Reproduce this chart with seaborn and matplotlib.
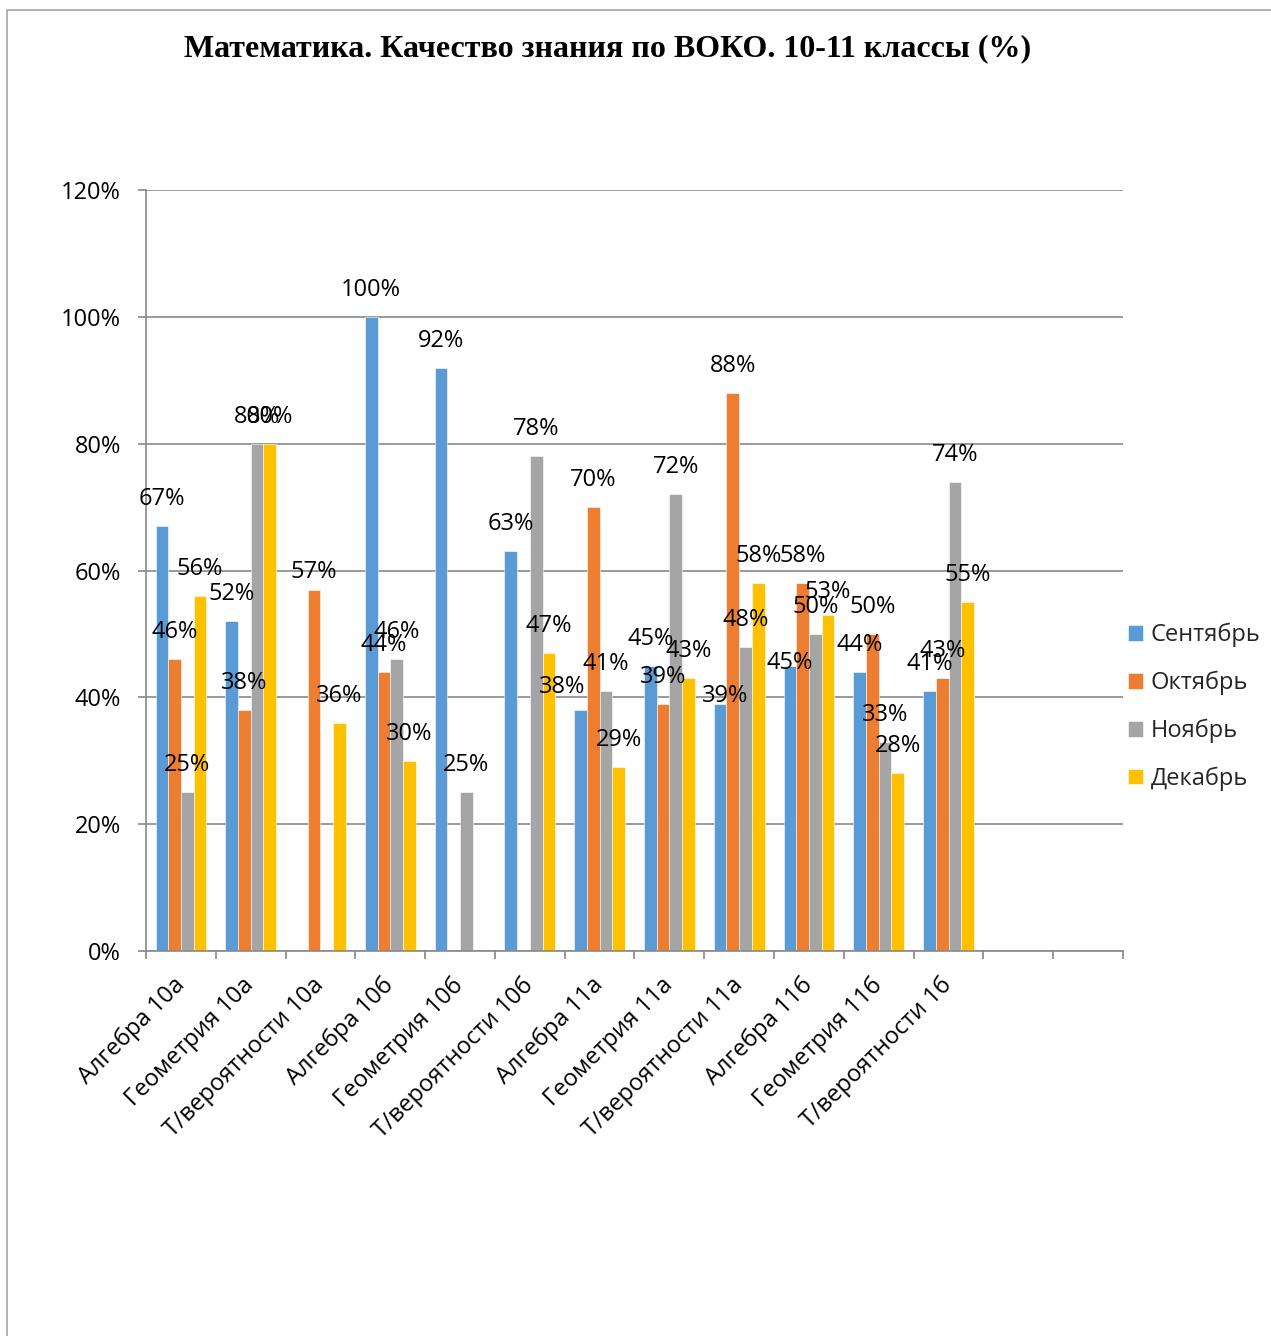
import matplotlib
matplotlib.use("Agg")
import numpy as np
import pandas as pd
import seaborn as sns
import matplotlib.pyplot as plt
from matplotlib.ticker import PercentFormatter, MultipleLocator, FixedLocator
from matplotlib.patches import Rectangle

# ---------------- data ----------------
categories = ["Алгебра 10а", "Геометрия 10а", "Т/вероятности 10а", "Алгебра 10б",
              "Геометрия 10б", "Т/вероятности 10б", "Алгебра 11а", "Геометрия 11а",
              "Т/вероятности 11а", "Алгебра 11б", "Геометрия 11б", "Т/вероятности 1б"]
months = ["Сентябрь", "Октябрь", "Ноябрь", "Декабрь"]
nan = np.nan
sentyabr = [67, 52, nan, 100, 92, 63, 38, 45, 39, 45, 44, 41]
oktyabr = [46, 38, 57, 44, nan, nan, 70, 39, 88, 58, 50, 43]
noyabr = [25, 80, nan, 46, 25, 78, 41, 72, 48, 50, 33, 74]
dekabr = [56, 80, 36, 30, nan, 47, 29, 43, 58, 53, 28, 55]
title = "Математика. Качество знания по ВОКО. 10-11 классы (%)"

colors = ["#5B9BD5", "#ED7D31", "#A5A5A5", "#FFC000"]

# manual label nudges (pixels) as in the original chart: (category index, month index) -> (dx, dy)
label_nudge = {(6, 0): (-18, -4), (8, 0): (5, -19), (9, 0): (0, -24),
               (2, 1): (0, -9), (9, 3): (0, -4)}

rows = []
for m, vals in zip(months, [sentyabr, oktyabr, noyabr, dekabr]):
    for c, v in zip(categories, vals):
        rows.append((c, m, v))
df = pd.DataFrame(rows, columns=["cat", "month", "value"])

# ---------------- figure ----------------
W, H = 1271, 1336
DPI = 100
FS = 17
sns.set_theme(style="white")
plt.rcParams["font.family"] = ["Open Sans", "DejaVu Sans"]

fig = plt.figure(figsize=(W / DPI, H / DPI), dpi=DPI)
fig.patch.set_facecolor("white")
ax = fig.add_axes([146 / W, 1 - 951 / H, (1123 - 146) / W, (951 - 190) / H])

sns.barplot(data=df, x="cat", y="value", hue="month", order=categories,
            hue_order=months, palette=colors, saturation=1, width=0.727,
            errorbar=None, ax=ax, edgecolor="#FFFFFF", linewidth=0.4)

ax.set_xlim(-0.5, 13.5)
ax.set_ylim(0, 120)
ax.set_xlabel("")
ax.set_ylabel("")

grid_c = "#898989"
ax.yaxis.set_major_locator(MultipleLocator(20))
ax.yaxis.set_major_formatter(PercentFormatter(100, decimals=0))
ax.grid(axis="y", color=grid_c, lw=1.2)
ax.grid(axis="x", visible=False)
ax.set_axisbelow(True)
for s in ["top", "right"]:
    ax.spines[s].set_visible(False)
for s in ["left", "bottom"]:
    ax.spines[s].set_color(grid_c)
    ax.spines[s].set_linewidth(1.2)

ax.set_xticks(range(len(categories)))
ax.set_xticklabels(categories)
ax.xaxis.set_minor_locator(FixedLocator(np.arange(-0.5, 14.0, 1.0)))
ax.tick_params(axis="x", which="major", bottom=True, length=0, pad=22,
               labelsize=FS, labelcolor="black")
ax.tick_params(axis="x", which="minor", bottom=True, length=6, width=1.2,
               color=grid_c, direction="out")
ax.tick_params(axis="y", which="major", left=True, length=6, width=1.2,
               color=grid_c, direction="out", pad=12, labelsize=FS, labelcolor="black")
plt.setp(ax.get_xticklabels(), rotation=45, ha="right", va="center",
         rotation_mode="anchor")

# data labels
for mi, cont in enumerate(ax.containers):
    for patch in cont:
        h = patch.get_height()
        if h is None or np.isnan(h):
            continue
        xc = patch.get_x() + patch.get_width() / 2
        ci = int(round(xc))
        dx, dy = label_nudge.get((ci, mi), (0, 0))
        ax.annotate(f"{h:.0f}%", (xc, h), xytext=(dx, 27 + dy),
                    textcoords="offset pixels", ha="center", va="center",
                    fontsize=FS, color="black")

handles, labels = ax.get_legend_handles_labels()
ax.legend(handles, labels, loc="center left",
          bbox_to_anchor=(1128 / W, 1 - 707 / H), bbox_transform=fig.transFigure,
          frameon=False, fontsize=FS, handlelength=0.62, handleheight=0.62,
          handletextpad=0.35, labelspacing=1.0, borderpad=0, borderaxespad=0)

fig.text(608 / W, 1 - 49 / H, title, ha="center", va="center",
         fontfamily=["Liberation Serif", "DejaVu Serif"], fontweight="bold",
         fontsize=23, color="black")

fig.add_artist(Rectangle((7 / W, -0.05), 1.2, 1 - 10 / H + 0.05,
                         transform=fig.transFigure, fill=False,
                         edgecolor="#A6A6A6", lw=1.2))

fig.savefig("out.png", dpi=DPI)
